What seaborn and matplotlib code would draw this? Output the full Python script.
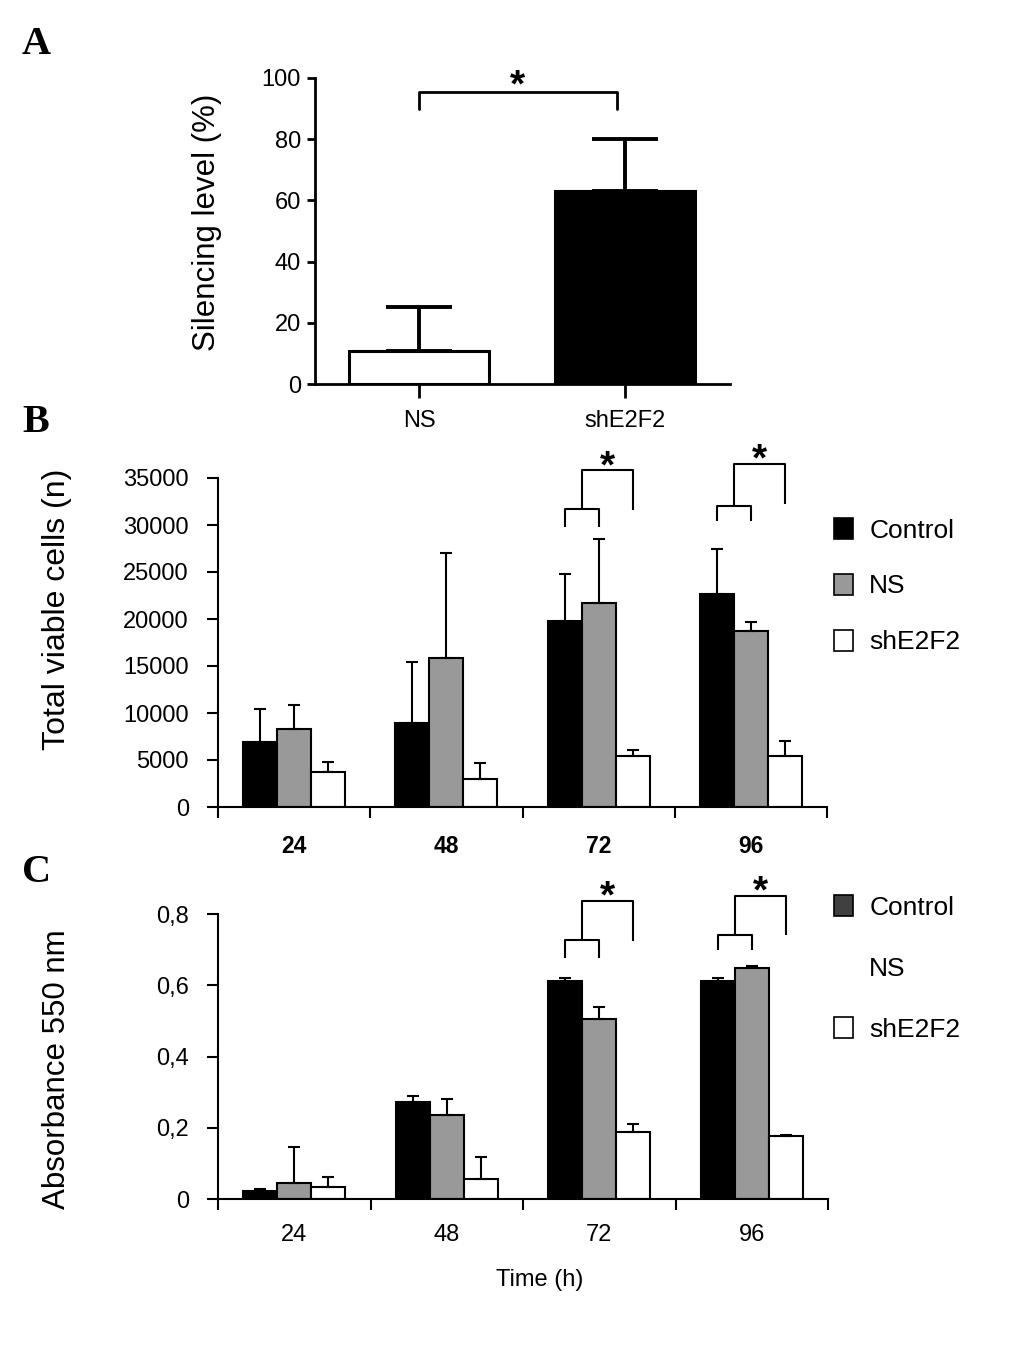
import numpy as np
import pandas as pd
import matplotlib
matplotlib.use('Agg')
import matplotlib.pyplot as plt
import seaborn as sns
from matplotlib.patches import Patch

# ---- panel A: silencing level ----
sil_groups = ['NS', 'shE2F2']
sil_mean = [10.8, 63.0]
sil_sd = [14.5, 17.0]
sil_colors = ['white', 'black']

# ---- panels B / C ----
times = ['24', '48', '72', '96']
groups = ['Control', 'NS', 'shE2F2']

viable_control = [6900, 8900, 19800, 22700]
viable_ns = [8300, 15900, 21700, 18700]
viable_sh = [3700, 3000, 5400, 5400]
viable_control_sd = [3500, 6500, 5000, 4800]
viable_ns_sd = [2550, 11100, 6800, 1000]
viable_sh_sd = [1100, 1700, 650, 1600]

absorb_control = [0.023, 0.272, 0.612, 0.612]
absorb_ns = [0.045, 0.237, 0.506, 0.649]
absorb_sh = [0.034, 0.056, 0.188, 0.177]
absorb_control_sd = [0.004, 0.016, 0.009, 0.009]
absorb_ns_sd = [0.100, 0.044, 0.034, 0.005]
absorb_sh_sd = [0.028, 0.062, 0.022, 0.002]
absorb_ticks = [0, 0.2, 0.4, 0.6, 0.8]
absorb_ticklabels = ['0', '0,2', '0,4', '0,6', '0,8']

# significance brackets (index of time point, small bracket y, small leg end, big bracket y, big leg end)
sig_idx = [2, 3]
viable_small_y = [31700, 32000]
viable_small_leg = [29800, 30400]
viable_big_y = [35800, 36500]
viable_big_leg = [31600, 32200]
absorb_small_y = [0.727, 0.742]
absorb_small_leg = [0.677, 0.700]
absorb_big_y = [0.837, 0.851]
absorb_big_leg = [0.725, 0.742]

group_colors = ['black', '#999999', 'white']

sns.set_style('ticks')
plt.rcParams['font.family'] = ['Liberation Sans', 'DejaVu Sans']
plt.rcParams['axes.linewidth'] = 1.5
for key in ['text.color', 'axes.labelcolor', 'xtick.color', 'ytick.color', 'axes.edgecolor']:
    plt.rcParams[key] = 'black'

fig = plt.figure(figsize=(10.33, 13.48), dpi=100)
W, H = 1033, 1348


def px_axes(l, t, r, b):
    return fig.add_axes([l / W, 1 - b / H, (r - l) / W, (b - t) / H])


def star(ax, x, y, off):
    ax.annotate('*', (x, y), xytext=(0, off), textcoords='offset points',
                ha='center', va='baseline', fontsize=28, fontweight='bold', annotation_clip=False)


def draw_bracket(ax, idx, small_y, small_leg, big_y, big_leg, bars):
    xc = bars[0][idx].get_x() + bars[0][idx].get_width() / 2
    xn = bars[1][idx].get_x() + bars[1][idx].get_width() / 2
    xs = bars[2][idx].get_x() + bars[2][idx].get_width() / 2
    xm = (xc + xn) / 2
    kw = dict(color='black', lw=1.5, clip_on=False, solid_capstyle='butt')
    ax.plot([xc, xc, xn, xn], [small_leg, small_y, small_y, small_leg], **kw)
    ax.plot([xm, xm, xs, xs], [small_y, big_y, big_y, big_leg], **kw)
    star(ax, (xm + xs) / 2, big_y, -5)


def grouped_panel(ax, control, ns, sh, control_sd, ns_sd, sh_sd):
    df = pd.DataFrame({
        'time': times * 3,
        'group': [g for g in groups for _ in times],
        'value': control + ns + sh,
    })
    sns.barplot(data=df, x='time', y='value', hue='group', order=times, hue_order=groups,
                palette=group_colors, width=0.67, edgecolor='black', linewidth=1.5,
                saturation=1, errorbar=None, legend=False, ax=ax)
    bars = [list(c) for c in ax.containers[:3]]
    for b, m, sd in zip(bars, [control, ns, sh], [control_sd, ns_sd, sh_sd]):
        xs = [p.get_x() + p.get_width() / 2 for p in b]
        ax.errorbar(xs, m, yerr=[np.zeros(len(m)), sd], fmt='none', ecolor='black',
                    elinewidth=1.5, capsize=4.5, capthick=1.5, zorder=3)
    ax.set_xlim(-0.5, 3.5)
    ax.set_xticks(range(len(times)))
    ax.set_xticklabels(times, fontsize=17)
    ax.set_xticks(np.arange(-0.5, len(times), 1), minor=True)
    ax.tick_params(axis='x', which='major', length=0, pad=20)
    ax.tick_params(axis='x', which='minor', length=8, width=1.5, direction='out')
    ax.tick_params(axis='y', length=8, width=1.5, direction='out', labelsize=17, pad=13)
    sns.despine(ax=ax)
    return bars


def legend_at(ax, handles, top, spacing):
    ax.legend(handles, groups, loc='upper left', bbox_to_anchor=(834 / W, 1 - top / H),
              bbox_transform=fig.transFigure, frameon=False, fontsize=19, borderpad=0,
              borderaxespad=0, handlelength=0.72, handleheight=0.85, handletextpad=0.62,
              labelspacing=spacing)


# ---- A ----
axA = px_axes(315, 78, 730, 384)
sns.barplot(x=sil_groups, y=sil_mean, hue=sil_groups, palette=sil_colors, width=0.68,
            edgecolor='black', linewidth=2.2, saturation=1, errorbar=None, legend=False, ax=axA)
a_x = [p.get_x() + p.get_width() / 2 for p in axA.patches]
axA.errorbar(a_x, sil_mean, yerr=[[0, 0], sil_sd], fmt='none', ecolor='black',
             elinewidth=2.8, capsize=24, capthick=2.8, zorder=3)
axA.set_xlim(-0.505, 1.51)
axA.set_ylim(0, 100)
axA.set_yticks([0, 20, 40, 60, 80, 100])
axA.tick_params(axis='y', length=6, width=2, labelsize=17, pad=4)
axA.tick_params(axis='x', length=10, width=2, labelsize=17, pad=9)
for s in axA.spines.values():
    s.set_linewidth(2)
sns.despine(ax=axA)
axA.set_ylabel('Silencing level (%)', fontsize=22.5)
axA.yaxis.set_label_coords(-0.224, 0.53)
kw = dict(color='black', lw=2, clip_on=False)
axA.plot([a_x[0], a_x[0], a_x[1] - 0.04, a_x[1] - 0.04], [90, 95.4, 95.4, 90], **kw)
star(axA, (a_x[0] + a_x[1] - 0.04) / 2, 95.4, -3)

# ---- B ----
axB = px_axes(218, 478, 827, 807)
barsB = grouped_panel(axB, viable_control, viable_ns, viable_sh,
                      viable_control_sd, viable_ns_sd, viable_sh_sd)
axB.set_ylim(0, 35000)
axB.set_yticks(range(0, 35001, 5000))
axB.set_xticklabels(times, fontsize=16.5, fontweight='bold')
axB.set_xlabel('')
axB.set_ylabel('Total viable cells (n)', fontsize=23)
axB.yaxis.set_label_coords(-0.24, 0.60)
for i, a, b, c, d in zip(sig_idx, viable_small_y, viable_small_leg, viable_big_y, viable_big_leg):
    draw_bracket(axB, i, a, b, c, d, barsB)
hB = [Patch(facecolor=c, edgecolor='black', linewidth=1.2) for c in group_colors]
legend_at(axB, hB, 518, 1.18)

# ---- C ----
axC = px_axes(218, 914, 828, 1199)
barsC = grouped_panel(axC, absorb_control, absorb_ns, absorb_sh,
                      absorb_control_sd, absorb_ns_sd, absorb_sh_sd)
axC.set_ylim(0, 0.8)
axC.set_yticks(absorb_ticks)
axC.set_yticklabels(absorb_ticklabels)
axC.tick_params(axis='x', which='major', pad=18)
axC.set_ylabel('Absorbance 550 nm', fontsize=22.5)
axC.yaxis.set_label_coords(-0.24, 0.456)
axC.set_xlabel('Time (h)', fontsize=17)
axC.xaxis.set_label_coords((540 - 218) / 610, -0.245)
for i, a, b, c, d in zip(sig_idx, absorb_small_y, absorb_small_leg, absorb_big_y, absorb_big_leg):
    draw_bracket(axC, i, a, b, c, d, barsC)
hC = [Patch(facecolor='#404040', edgecolor='black', linewidth=1.2),
      Patch(facecolor='none', edgecolor='none'),
      Patch(facecolor='white', edgecolor='black', linewidth=1.2)]
legend_at(axC, hC, 895, 1.38)

# panel letters
for letter, yc in [('A', 44), ('B', 423), ('C', 872)]:
    fig.text(22 / W, 1 - yc / H, letter, family=['Liberation Serif', 'DejaVu Serif'],
             fontsize=29, fontweight='bold', ha='left', va='center')

fig.savefig('out.png', dpi=100)
